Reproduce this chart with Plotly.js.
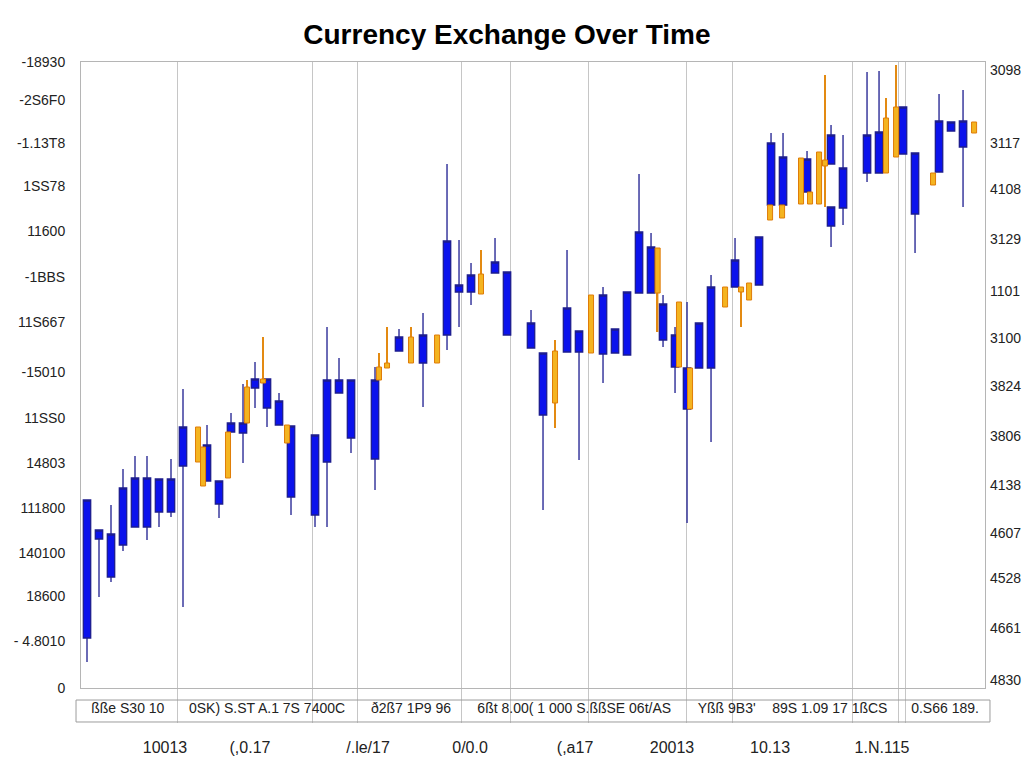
<!DOCTYPE html>
<html>
<head>
<meta charset="utf-8">
<script src="https://cdn.plot.ly/plotly-3.0.1.min.js"></script>
<style>html,body{margin:0;padding:0;background:#fff;}#chart{width:1024px;height:768px;}</style>
</head>
<body>
<div id="chart"></div>
<script>
// ---- blue candles (session index, open, high, low, close) ----
const blueSession = [0,1,2,3,4,5,6,7,8,10,11,12,13,14,15,16,17,19,20,21,22,24,26,28,30,31,32,34,35,37,38,40,41,43,44,45,46,47,48,49,50,51,52,54,56,57,58,60,62,62,63,65,66,68,69,71,72,73];
const blueOpen  = [1.050,1.149,1.111,1.143,1.161,1.161,1.176,1.176,1.222,1.207,1.184,1.256,1.255,1.300,1.280,1.263,1.191,1.173,1.226,1.295,1.250,1.229,1.337,1.325,1.353,1.396,1.396,1.415,1.353,1.340,1.273,1.336,1.336,1.334,1.335,1.333,1.395,1.395,1.348,1.321,1.279,1.320,1.320,1.401,1.403,1.483,1.483,1.496,1.524,1.462,1.480,1.515,1.515,1.534,1.474,1.516,1.557,1.541];
const blueClose = [1.188,1.158,1.154,1.200,1.210,1.210,1.209,1.209,1.261,1.243,1.207,1.265,1.265,1.309,1.309,1.287,1.262,1.253,1.308,1.308,1.308,1.308,1.351,1.353,1.447,1.403,1.413,1.426,1.416,1.365,1.335,1.380,1.357,1.393,1.359,1.396,1.456,1.441,1.384,1.353,1.320,1.365,1.401,1.428,1.451,1.545,1.531,1.529,1.553,1.481,1.520,1.553,1.556,1.581,1.535,1.567,1.566,1.567];
const blueHigh  = [1.188,1.158,1.183,1.219,1.232,1.232,1.209,1.229,1.299,1.263,1.207,1.275,1.304,1.326,1.309,1.295,1.262,1.253,1.361,1.330,1.308,1.321,1.359,1.375,1.524,1.448,1.425,1.450,1.416,1.378,1.335,1.438,1.357,1.401,1.359,1.396,1.514,1.455,1.393,1.361,1.386,1.365,1.413,1.450,1.451,1.555,1.555,1.537,1.563,1.481,1.553,1.616,1.617,1.581,1.535,1.594,1.566,1.598];
const blueLow   = [1.026,1.091,1.106,1.137,1.161,1.148,1.161,1.171,1.081,1.207,1.170,1.256,1.225,1.280,1.261,1.263,1.173,1.161,1.161,1.295,1.235,1.198,1.337,1.281,1.338,1.361,1.383,1.415,1.353,1.340,1.178,1.336,1.228,1.305,1.335,1.333,1.395,1.395,1.341,1.295,1.165,1.320,1.246,1.401,1.403,1.483,1.483,1.496,1.524,1.441,1.463,1.506,1.515,1.534,1.435,1.516,1.557,1.481];

// ---- orange candles ----
const orangeSession = [9.25,9.67,11.75,13.33,14.67,16.67,24.33,25.0,27.0,29.17,32.83,39.0,42.0,47.55,49.33,50.25,53.17,54.5,55.17,56.92,57.92,59.5,60.25,61.0,61.5,66.58,67.42,70.5,73.92];
const orangeOpen  = [1.226,1.202,1.210,1.265,1.305,1.245,1.308,1.320,1.325,1.325,1.394,1.285,1.335,1.395,1.321,1.279,1.381,1.396,1.388,1.468,1.470,1.484,1.484,1.484,1.522,1.515,1.531,1.503,1.555];
const orangeClose = [1.261,1.241,1.256,1.301,1.309,1.263,1.321,1.325,1.351,1.353,1.414,1.337,1.393,1.440,1.386,1.320,1.401,1.401,1.405,1.483,1.483,1.530,1.496,1.536,1.528,1.570,1.581,1.515,1.566];
const orangeHigh  = [1.261,1.241,1.256,1.308,1.351,1.263,1.335,1.361,1.361,1.353,1.438,1.348,1.393,1.440,1.386,1.320,1.401,1.401,1.405,1.483,1.483,1.530,1.496,1.536,1.613,1.590,1.623,1.515,1.566];
const orangeLow   = [1.226,1.202,1.210,1.265,1.305,1.245,1.308,1.320,1.325,1.325,1.394,1.260,1.335,1.356,1.321,1.279,1.381,1.361,1.388,1.468,1.470,1.484,1.484,1.484,1.481,1.515,1.531,1.503,1.555];

// ---- axes ----
const leftTickVals = [1.626,1.588,1.545,1.502,1.457,1.411,1.366,1.316,1.270,1.225,1.180,1.135,1.092,1.047,1.000];
const leftTickText = ['-18930','-2S6F0','-1.13T8','1SS78','11600','-1BBS','11S667','-15010','11SS0','14803','111800','140100','18600','- 4.8010','0'];
const rightTickVals = [1.618,1.545,1.499,1.449,1.397,1.350,1.302,1.252,1.203,1.155,1.110,1.060,1.008];
const rightTickText = ['3098','3117','4108','3129','1101','3100','3824','3806','4138','4607','4528','4661','4830'];
const gridSessions = [7.5,18.83,22.5,31.17,35.25,41.83,49.92,53.75,63.83,67.58,68.17];
const rowOnePos = [3.4,15.0,27.0,40.6,53.3,61.9,71.5];
const rowOneLabels = ['ßße S30 10','0SK) S.ST A.1 7S 7400C','ð2ß7 1P9 96','6ßt 8.00( 1 000 S.ßßSE 06t/AS','Yßß 9B3\'','89S 1.09 17 1ßCS','0.S66 189.'];
const rowTwoPos = [6.5,13.58,23.42,31.92,40.67,48.75,56.92,66.25];
const rowTwoLabels = ['10013','(,0.17','/.le/17','0/0.0','(,a17','20013','10.13','1.N.115'];

const xRange = [-0.5, 74.83];
const yRange = [1.000, 1.626];

const wickBase = orangeLow;
const wickLen = orangeHigh.map((h,i)=>h-orangeLow[i]);
const bodyBase = orangeOpen.map((o,i)=>Math.min(o,orangeClose[i]));
const bodyLen = orangeOpen.map((o,i)=>Math.abs(orangeClose[i]-o));

const traces = [
  {type:'candlestick', x:blueSession, open:blueOpen, high:blueHigh, low:blueLow, close:blueClose,
   increasing:{line:{color:'#1d1d8f', width:1.3}, fillcolor:'#0b12ec'},
   decreasing:{line:{color:'#1d1d8f', width:1.3}, fillcolor:'#0b12ec'},
   whiskerwidth:0, xaxis:'x', yaxis:'y'},
  {type:'bar', x:orangeSession, base:wickBase, y:wickLen, width:0.13, xaxis:'x2', yaxis:'y',
   marker:{color:'#e38a12', line:{width:0}}, hoverinfo:'skip'},
  {type:'bar', x:orangeSession, base:bodyBase, y:bodyLen, width:0.42, xaxis:'x3', yaxis:'y2',
   marker:{color:'#f4b420', line:{color:'#df7c08', width:1}},
   customdata:orangeOpen.map((o,i)=>[o,orangeHigh[i],orangeLow[i],orangeClose[i]]),
   hovertemplate:'O %{customdata[0]}<br>H %{customdata[1]}<br>L %{customdata[2]}<br>C %{customdata[3]}<extra></extra>'}
];

const baseFont = {family:'Liberation Sans, Arial, sans-serif', color:'#222'};

const layout = {
  width:1024, height:768,
  paper_bgcolor:'#ffffff', plot_bgcolor:'#ffffff',
  margin:{l:81, r:39, t:62, b:80},
  showlegend:false,
  barmode:'overlay',
  boxgap:0.12,
  title:{text:'Currency Exchange Over Time', x:0.495, xanchor:'center', y:0.955, yref:'container', yanchor:'middle',
         font:{family:'Liberation Sans, Arial, sans-serif', size:28, color:'#000', weight:'bold'}},
  xaxis:{range:xRange, tickvals:gridSessions, ticktext:gridSessions.map(()=> ''), showgrid:true, gridcolor:'#c6c6c6', gridwidth:1,
         ticks:'outside', ticklen:34, tickcolor:'#c6c6c6', tickwidth:1, showline:true, mirror:true, linecolor:'#b5b5b5',
         zeroline:false, rangeslider:{visible:false}, fixedrange:true},
  xaxis2:{overlaying:'x', anchor:'y', side:'bottom', range:xRange, tickvals:rowOnePos, ticktext:rowOneLabels,
          tickangle:0, showgrid:false, ticks:'', ticklabelstandoff:10, zeroline:false, showline:false, fixedrange:true,
          tickfont:Object.assign({size:14}, baseFont)},
  xaxis3:{overlaying:'x', anchor:'y2', side:'bottom', range:xRange, tickvals:rowTwoPos, ticktext:rowTwoLabels,
          tickangle:0, showgrid:false, ticks:'', ticklabelstandoff:48, zeroline:false, showline:false, fixedrange:true,
          tickfont:Object.assign({size:16}, baseFont)},
  yaxis:{range:yRange, tickvals:leftTickVals, ticktext:leftTickText, showgrid:false, zeroline:false,
         showline:true, mirror:true, linecolor:'#b5b5b5', ticks:'', ticklabelstandoff:12,
         tickfont:Object.assign({size:14}, baseFont), fixedrange:true},
  yaxis2:{overlaying:'y', side:'right', anchor:'x3', range:yRange, tickvals:rightTickVals, ticktext:rightTickText,
          showgrid:false, zeroline:false, showline:false, ticks:'', ticklabelstandoff:4, fixedrange:true,
          tickfont:Object.assign({size:14}, baseFont)},
  shapes:[{type:'rect', xref:'paper', yref:'paper', x0:-0.0055, x1:1.0055, y0:-0.0543, y1:-0.0192,
           line:{color:'#9c9c9c', width:1}, fillcolor:'rgba(0,0,0,0)', layer:'above'}]
};

Plotly.newPlot('chart', traces, layout, {displayModeBar:false, responsive:false});
</script>
</body>
</html>
